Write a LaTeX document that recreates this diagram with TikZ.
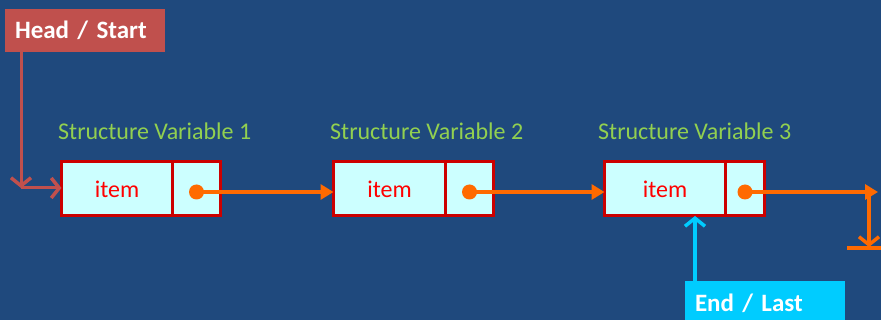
\documentclass[tikz,border=0pt]{standalone}
\usepackage{fontspec}
\setmainfont{Carlito}
\usetikzlibrary{arrows.meta,positioning}
\definecolor{bg}{HTML}{1F497D}
\definecolor{headred}{HTML}{C0504D}
\definecolor{cellfill}{HTML}{CCFFFF}
\definecolor{cellline}{HTML}{CC0000}
\definecolor{ptr}{HTML}{FF6A00}
\definecolor{lbl}{HTML}{92D050}
\definecolor{endcyan}{HTML}{00CCFF}
\tikzset{
  cell/.style={draw=cellline, fill=cellfill, line width=3pt, inner sep=0pt,
    outer sep=0pt, minimum height=54pt, anchor=west,
    font=\fontsize{24}{28}\selectfont, text=red},
  varlabel/.style={anchor=base west, inner sep=0pt, text=lbl,
    font=\fontsize{24}{28}\selectfont},
  tag/.style={inner xsep=10pt, inner ysep=0pt, outer sep=0pt, align=left,
    text=white, font=\bfseries\fontsize{25}{29}\selectfont, anchor=north west},
  dot/.style={circle, fill=ptr, inner sep=0pt, minimum size=15pt},
  link/.style={draw=ptr, line width=4.5pt, -{Triangle[length=13pt,width=15pt]}},
  barb/.style={-{Straight Barb[length=8pt,width=20pt,line width=3.5pt]}},
}
\begin{document}
\begin{tikzpicture}[x=1pt,y=-1pt]
  \fill[bg] (0,0) rectangle (881,320);
  \useasboundingbox (0,0) rectangle (881,320);

  % list nodes: data cell + pointer cell
  \node[cell, minimum width=111pt] (i1) at (61.5,189) {item};
  \node[cell, minimum width=48pt]  (p1) at (i1.east) {};
  \node[cell, minimum width=112pt] (i2) at (333.5,189) {item};
  \node[cell, minimum width=48pt]  (p2) at (i2.east) {};
  \node[cell, minimum width=121pt] (i3) at (604.5,189) {item};
  \node[cell, minimum width=39pt]  (p3) at (i3.east) {};

  % captions
  \node[varlabel] (l1) at (58,140) {Structure Variable 1};
  \node[varlabel] (l2) at (330,140) {Structure Variable 2};
  \node[varlabel] (l3) at (598,140) {Structure Variable 3};

  % pointer dots
  \node[dot] (d1) at ([yshift=-3pt]p1.center) {};
  \node[dot] (d2) at ([yshift=-3pt]p2.center) {};
  \node[dot] (d3) at ([yshift=-3pt]p3.center) {};

  % links
  \draw[link] (d1.center) -- (d1.center -| i2.west);
  \draw[link] (d2.center) -- (d2.center -| i3.west);
  \coordinate (tail) at (878,192);
  \draw[link] (d3.center) -- (tail);
  \coordinate (drop) at (869,192);
  \coordinate (gnd) at (869,247);
  \draw[draw=ptr, line width=4pt, barb] (drop) -- (gnd);
  \coordinate (gl) at (847,248);
  \coordinate (gr) at (881,248);
  \draw[draw=ptr, line width=3.5pt] (gl) -- (gr);

  % head pointer
  \node[tag, fill=headred, minimum width=160pt, minimum height=43pt,
        text width=140pt] (head) at (5,9) {Head / Start};
  \coordinate (hd) at (21,52);
  \coordinate (hc) at (21,188);
  \draw[draw=headred, line width=3pt, barb] (hd) -- (hc);
  \draw[draw=headred, line width=3pt, barb] (hc) -- (hc -| i1.west);

  % tail pointer
  \node[tag, fill=endcyan, minimum width=160pt, minimum height=44pt,
        text width=140pt] (last) at (685,281) {End / Last};
  \coordinate (ea) at (695,281);
  \draw[draw=endcyan, line width=3.5pt, barb] (ea) -- (ea |- i3.south);
\end{tikzpicture}
\end{document}
